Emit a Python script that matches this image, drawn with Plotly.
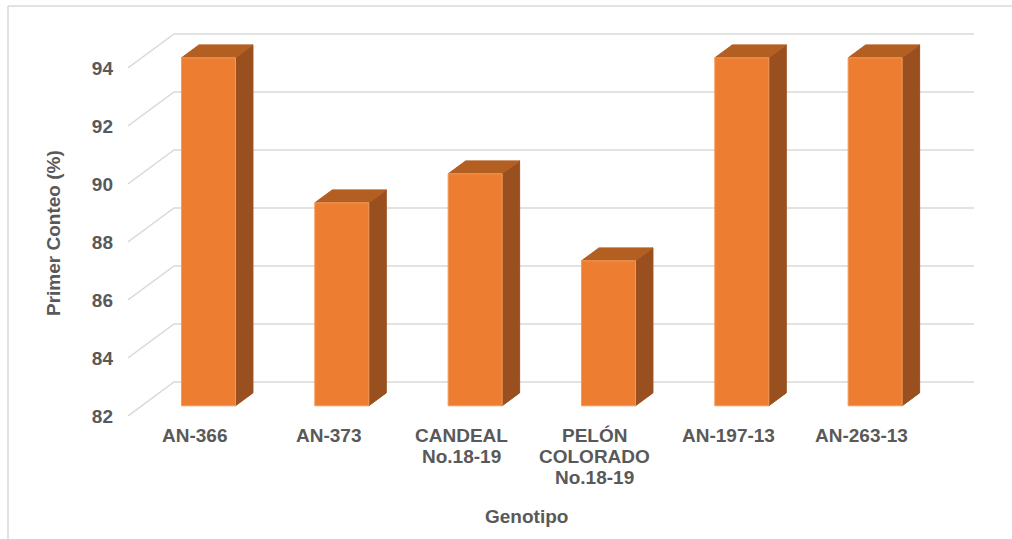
import plotly.graph_objects as go

# Data
genotipos = ["AN-366", "AN-373", "CANDEAL<br>No.18-19", "PELÓN<br>COLORADO<br>No.18-19",
             "AN-197-13", "AN-263-13"]
primer_conteo = [94, 89, 90, 87, 94, 94]
y_ticks = [82, 84, 86, 88, 90, 92, 94]

# Pseudo-3D geometry (oblique projection of the depth axis)
BASE = 82
DEPTH_X = 0.345      # category units per full wall depth
DEPTH_Y = 1.172      # value units per full wall depth
HALF_W = 0.2025      # half bar width, category units
D_FRONT, D_BACK = 0.30, 0.68
PX_PER_UNIT = 29
TOP_M, BOT_M = 20, 123
HEIGHT, WIDTH = 539, 1012
L_M, R_M = 128, 38
LABEL_FIRST, LABEL_STEP = 19, 21   # category label line offsets below the plot, px

FRONT = "#ED7D31"
SIDE = "#9A4F1E"
TOPC = "#B45F22"
GRID = "#D9D9D9"
TXT = "#595959"
FONT = "Liberation Sans, Arial, sans-serif"
BOLD19 = dict(size=19, color=TXT, family=FONT, weight="bold")


def proj(x, v, d):
    return x + d * DEPTH_X, v + d * DEPTH_Y


def poly(pts):
    xs, ys = [], []
    for p in pts + [pts[0]]:
        px, py = proj(*p)
        xs.append(px)
        ys.append(py)
    return xs, ys


fig = go.Figure()

# back wall gridlines with the left side-wall diagonals
gx, gy = [], []
n = len(genotipos)
for v in y_ticks:
    for p in [(-0.5, v, 0), (-0.5, v, 1), (n - 0.5, v, 1)]:
        px, py = proj(*p)
        gx.append(px)
        gy.append(py)
    gx.append(None)
    gy.append(None)
fig.add_trace(go.Scatter(x=gx, y=gy, mode="lines", line=dict(color=GRID, width=1.5),
                         hoverinfo="skip", showlegend=False))

# bars: side, top, front faces
faces = {"side": ([], []), "top": ([], []), "front": ([], [])}
for i, val in enumerate(primer_conteo):
    l, r = i - HALF_W, i + HALF_W
    shapes = {
        "side": [(r, BASE, D_FRONT), (r, BASE, D_BACK), (r, val, D_BACK), (r, val, D_FRONT)],
        "top": [(l, val, D_FRONT), (r, val, D_FRONT), (r, val, D_BACK), (l, val, D_BACK)],
        "front": [(l, BASE, D_FRONT), (r, BASE, D_FRONT), (r, val, D_FRONT), (l, val, D_FRONT)],
    }
    for k, pts in shapes.items():
        xs, ys = poly(pts)
        faces[k][0].extend(xs + [None])
        faces[k][1].extend(ys + [None])

styles = {"side": (SIDE, SIDE), "top": (TOPC, TOPC), "front": (FRONT, "#F29B5C")}
for k in ["side", "top", "front"]:
    fill, edge = styles[k]
    fig.add_trace(go.Scatter(x=faces[k][0], y=faces[k][1], mode="lines", fill="toself",
                             fillcolor=fill, line=dict(color=edge, width=1),
                             hoverinfo="skip", showlegend=False))

plot_h = HEIGHT - TOP_M - BOT_M
plot_w = WIDTH - L_M - R_M
y_top = BASE + plot_h / PX_PER_UNIT

# category labels, one annotation per line for tight line spacing
annotations = []
for i, name in enumerate(genotipos):
    for j, line in enumerate(name.split("<br>")):
        annotations.append(dict(text=line, x=i, xref="x", y=0, yref="paper",
                                yshift=-(LABEL_FIRST + j * LABEL_STEP), xanchor="center",
                                yanchor="middle", showarrow=False, font=BOLD19))

annotations += [
    dict(text="Primer Conteo (%)", textangle=-90, xref="paper", yref="paper",
         x=(53 - L_M) / plot_w, y=(HEIGHT - BOT_M - 233) / plot_h,
         xanchor="center", yanchor="middle", showarrow=False, font=BOLD19),
    dict(text="Genotipo", xref="paper", yref="paper",
         x=(526 - L_M) / plot_w, y=(HEIGHT - BOT_M - 516) / plot_h,
         xanchor="center", yanchor="middle", showarrow=False, font=BOLD19),
]

fig.update_layout(
    width=WIDTH, height=HEIGHT,
    margin=dict(l=L_M, r=R_M, t=TOP_M, b=BOT_M),
    paper_bgcolor="white", plot_bgcolor="white",
    font=dict(family=FONT, color=TXT),
    xaxis=dict(range=[-0.5, n - 0.5 + DEPTH_X], tickvals=list(range(n)),
               showticklabels=False, showgrid=False, zeroline=False, showline=False,
               ticks="", fixedrange=True),
    yaxis=dict(range=[BASE, y_top], tickvals=y_ticks, showgrid=False, zeroline=False,
               showline=False, ticks="", ticklabelstandoff=14,
               tickfont=BOLD19, fixedrange=True),
    annotations=annotations,
    shapes=[
        dict(type="line", xref="paper", yref="paper",
             x0=(8 - L_M) / plot_w, x1=(8 - L_M) / plot_w,
             y0=(HEIGHT - BOT_M - 6) / plot_h, y1=(HEIGHT - BOT_M - 560) / plot_h,
             line=dict(color=GRID, width=1.5)),
        dict(type="line", xref="paper", yref="paper",
             x0=(8 - L_M) / plot_w, x1=(1030 - L_M) / plot_w,
             y0=(HEIGHT - BOT_M - 6) / plot_h, y1=(HEIGHT - BOT_M - 6) / plot_h,
             line=dict(color=GRID, width=1.5)),
    ],
)

fig.write_html("out.html")
